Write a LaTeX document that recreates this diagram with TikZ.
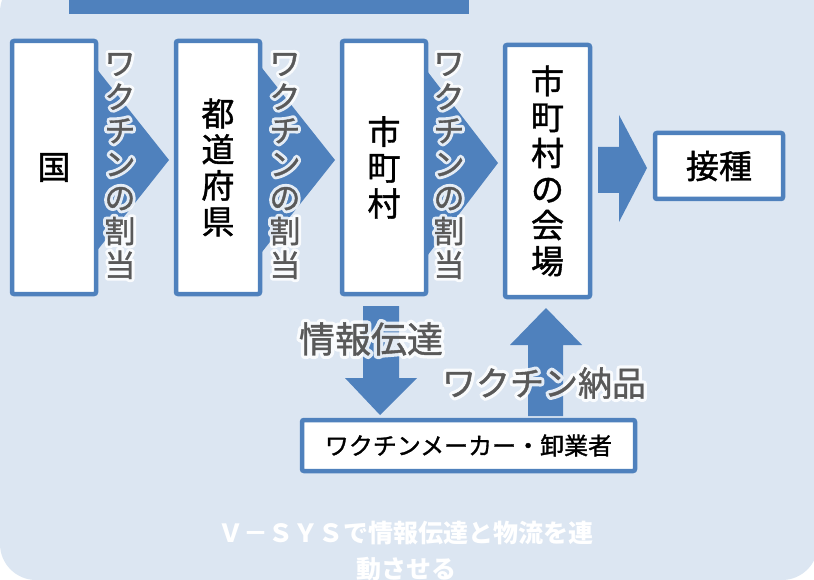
\documentclass[tikz,border=0pt]{standalone}
\usepackage{fontspec}
\setmainfont{Noto Sans CJK JP}
\newfontfamily\glowfont[FakeBold=20]{Noto Sans CJK JP}
\newfontfamily\heavyfont[FakeBold=1.2]{Noto Sans CJK JP}
\definecolor{bgblue}{HTML}{DCE6F2}
\definecolor{mainblue}{HTML}{4F81BD}
\definecolor{labelgrey}{HTML}{595959}
\newcommand\glowlabel[4]{%
  \begin{scope}[line join=round]
  \node[lbl,font={\glowfont#3},text=white,text opacity=0.85,line join=round] at (#2) {#4};
  \end{scope}
  \node[lbl,font={\heavyfont#3}] (#1) at (#2) {#4};}
\begin{document}
\begin{tikzpicture}[x=1pt,y=-1pt,
  box/.style={draw=mainblue,line width=4.5pt,fill=white,rounded corners=2pt,inner sep=0pt,align=center,text=black},
  tallbox/.style={box,minimum width=84pt,minimum height=253pt,font={\heavyfont\fontsize{33}{36}\selectfont}},
  blockarrow/.style={fill=mainblue,draw=none},
  lbl/.style={inner sep=0pt,align=center,text=labelgrey}]
\useasboundingbox (0,0) rectangle (814,580);
\fill[bgblue,rounded corners=36pt] (0,-24) rectangle (818,580);
\fill[mainblue] (69,0) rectangle (469,14);

% chevron arrows (behind boxes)
\fill[blockarrow] (92,63) -- (169,160) -- (92,257) -- cycle;
\fill[blockarrow] (258,63) -- (335,160) -- (258,257) -- cycle;
\fill[blockarrow] (424,67) -- (498,163) -- (424,260) -- cycle;
% right block arrow
\fill[blockarrow] (598,147) -- (619,147) -- (619,115) -- (647,168) -- (619,222) -- (619,193) -- (598,193) -- cycle;
% down arrow
\fill[blockarrow] (363,306) -- (399,306) -- (399,378) -- (417,378) -- (380,415) -- (345,378) -- (363,378) -- cycle;
% up arrow
\fill[blockarrow] (528,416) -- (528,345) -- (510,345) -- (546,308) -- (582,345) -- (563,345) -- (563,416) -- cycle;

% boxes
\node[tallbox] (kuni) at (54,167.5) {国};
\node[tallbox] (todofuken) at (218,167.5) {都\\道\\府\\県};
\node[tallbox] (shichoson) at (384,167.5) {市\\町\\村};
\node[tallbox,minimum width=85pt,minimum height=252pt] (kaijo) at (547.5,171) {市\\町\\村\\の\\会\\場};
\node[box,minimum width=128pt,minimum height=66pt,font={\heavyfont\fontsize{33}{36}\selectfont}] (sesshu) at (719,166) {接種};
\node[box,minimum width=333pt,minimum height=51pt,font={\heavyfont\fontsize{24}{26}\selectfont}] (maker) at (468.5,445.5) {ワクチンメーカー・卸業者};

% labels
\glowlabel{lab1}{120,166}{\fontsize{31}{33.6}\selectfont}{ワ\\ク\\チ\\ン\\の\\割\\当}
\glowlabel{lab2}{285,166}{\fontsize{31}{33.6}\selectfont}{ワ\\ク\\チ\\ン\\の\\割\\当}
\glowlabel{lab3}{449,166}{\fontsize{31}{33.6}\selectfont}{ワ\\ク\\チ\\ン\\の\\割\\当}
\glowlabel{info}{371,339}{\fontsize{36}{38}\selectfont}{情報伝達}
\glowlabel{nohin}{544,383}{\fontsize{34}{36}\selectfont}{ワクチン納品}

\node[inner sep=0pt,align=center,text=white,font={\bfseries\fontsize{25}{36}\selectfont}] (caption) at (406,551) {Ｖ－ＳＹＳで情報伝達と物流を連\\動させる};
\end{tikzpicture}
\end{document}
